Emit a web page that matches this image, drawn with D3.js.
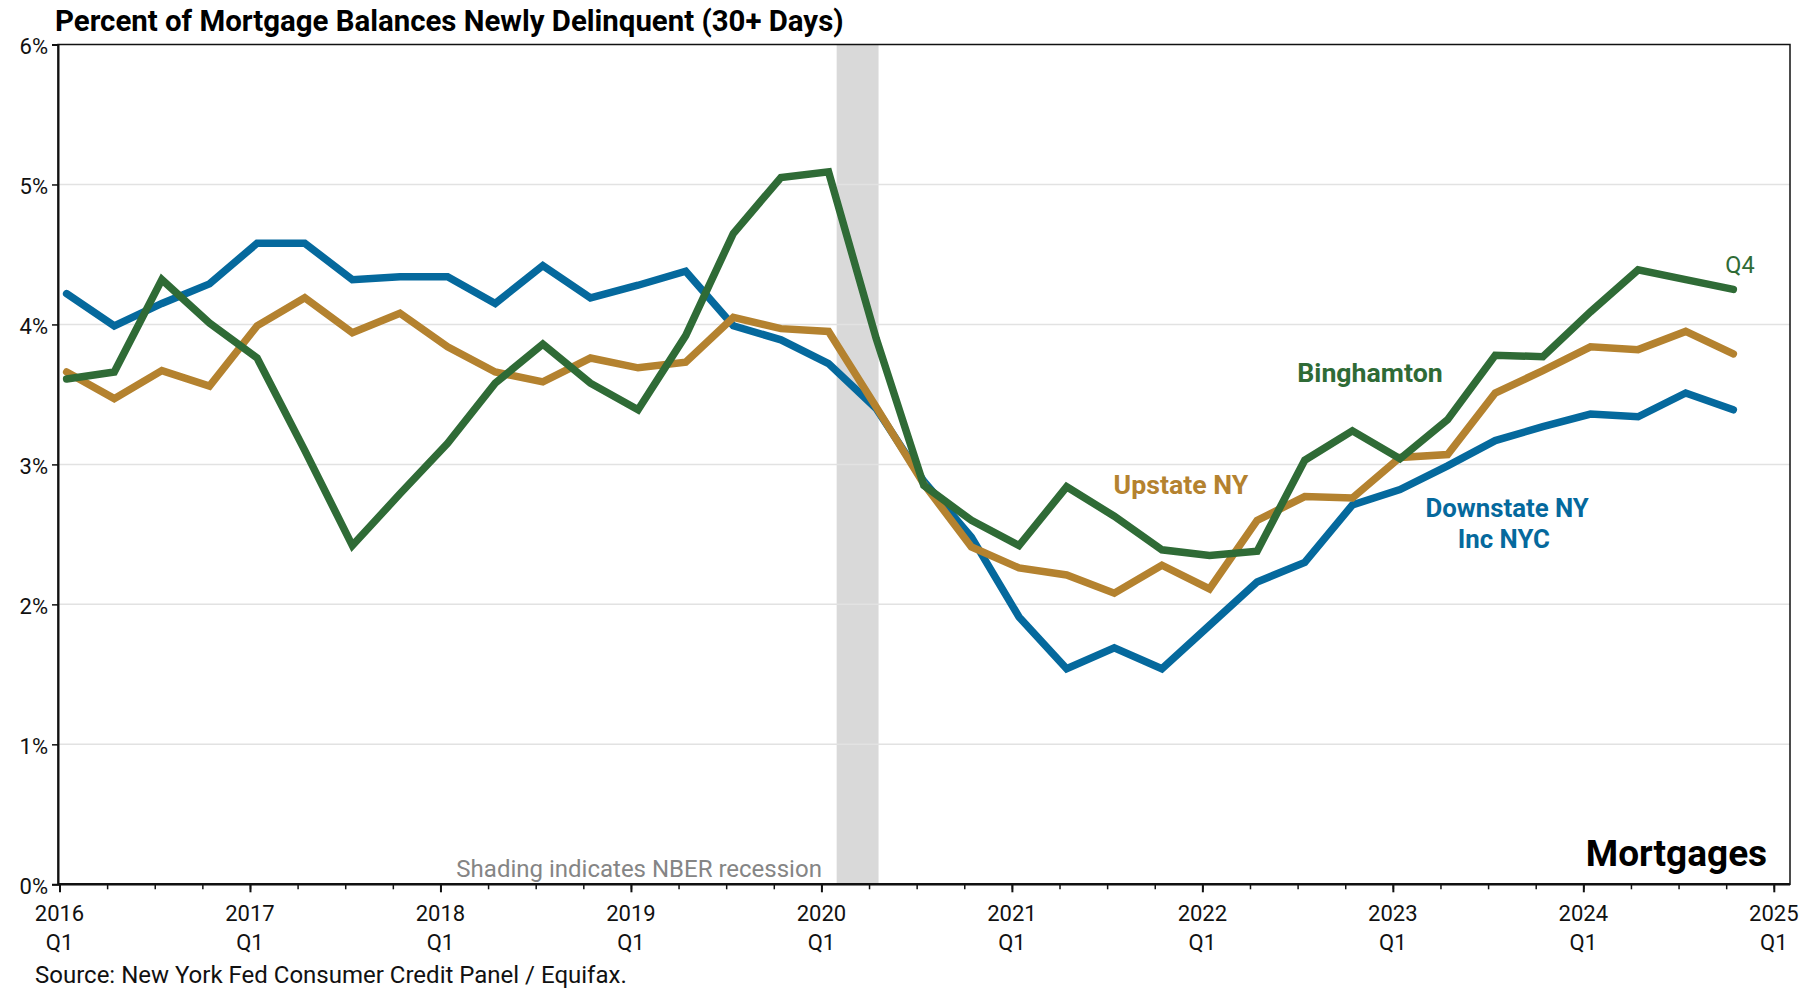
<!DOCTYPE html>
<html>
<head>
<meta charset="utf-8">
<script src="https://cdn.jsdelivr.net/npm/d3@7"></script>
<style>
  html, body { margin: 0; padding: 0; background: #fff; }
  svg { display: block; font-family: Roboto, "Noto Sans", sans-serif; }
</style>
</head>
<body>
<div id="chart"></div>
<script>
  // quarters 2016Q1 .. 2024Q4
  const quarters = [
    '2016Q1', '2016Q2', '2016Q3', '2016Q4', '2017Q1', '2017Q2', '2017Q3', '2017Q4',
    '2018Q1', '2018Q2', '2018Q3', '2018Q4', '2019Q1', '2019Q2', '2019Q3', '2019Q4',
    '2020Q1', '2020Q2', '2020Q3', '2020Q4', '2021Q1', '2021Q2', '2021Q3', '2021Q4',
    '2022Q1', '2022Q2', '2022Q3', '2022Q4', '2023Q1', '2023Q2', '2023Q3', '2023Q4',
    '2024Q1', '2024Q2', '2024Q3', '2024Q4'
  ];

  const downstate = [
    4.22, 3.99, 4.15, 4.29, 4.58, 4.58, 4.32, 4.34, 4.34, 4.15, 4.42, 4.19,
    4.28, 4.38, 3.99, 3.89, 3.72, 3.40, 2.88, 2.48, 1.91, 1.54, 1.69, 1.54,
    1.85, 2.16, 2.30, 2.71, 2.82, 2.99, 3.17, 3.27, 3.36, 3.34, 3.51, 3.39
  ];

  const upstate = [
    3.66, 3.47, 3.67, 3.56, 3.99, 4.19, 3.94, 4.08, 3.84, 3.66, 3.59, 3.76,
    3.69, 3.73, 4.05, 3.97, 3.95, 3.41, 2.86, 2.41, 2.26, 2.21, 2.08, 2.28,
    2.11, 2.60, 2.77, 2.76, 3.05, 3.07, 3.51, 3.67, 3.84, 3.82, 3.95, 3.79
  ];

  const binghamton = [
    3.61, 3.66, 4.32, 4.01, 3.76, 3.10, 2.42, 2.79, 3.15, 3.58, 3.86, 3.58,
    3.39, 3.92, 4.65, 5.05, 5.09, 3.90, 2.85, 2.60, 2.42, 2.84, 2.63, 2.39,
    2.35, 2.38, 3.03, 3.24, 3.04, 3.32, 3.78, 3.77, 4.09, 4.39, 4.32, 4.25
  ];

  const yTicks = [0, 1, 2, 3, 4, 5, 6];
  const yearTicks = ['2016', '2017', '2018', '2019', '2020', '2021', '2022', '2023', '2024', '2025'];

  // NBER recession, in decimal years
  const recession = [2020.08, 2020.30];

  const series = [
    {name: 'Downstate NY Inc NYC', values: downstate, color: '#05699d'},
    {name: 'Upstate NY', values: upstate, color: '#b4822f'},
    {name: 'Binghamton', values: binghamton, color: '#2f6b36'}
  ];

  const WIDTH = 1816;
  const HEIGHT = 988;
  const plot = {left: 58, right: 1790, top: 44.5, bottom: 884.3};
  const POINT_OFFSET = 0.15; // points sit a little after the quarter tick

  const svg = d3.select('#chart').append('svg')
    .attr('width', WIDTH)
    .attr('height', HEIGHT);

  const x = d3.scaleLinear().domain([0, 36]).range([59.5, 1773.8]);
  const y = d3.scaleLinear().domain([0, 6]).range([plot.bottom, plot.top]);
  const xYear = (yr) => x((yr - 2016) * 4);

  // recession band
  svg.append('rect')
    .attr('x', xYear(recession[0]))
    .attr('y', plot.top)
    .attr('width', xYear(recession[1]) - xYear(recession[0]))
    .attr('height', plot.bottom - plot.top)
    .attr('fill', '#d9d9d9');

  // grid
  svg.append('g')
    .selectAll('line')
    .data(yTicks.filter((d) => d > 0 && d < 6))
    .join('line')
    .attr('x1', plot.left)
    .attr('x2', plot.right)
    .attr('y1', (d) => y(d))
    .attr('y2', (d) => y(d))
    .attr('stroke', '#e2e2e2')
    .attr('stroke-width', 1.5);

  // frame
  svg.append('rect')
    .attr('x', plot.left)
    .attr('y', plot.top)
    .attr('width', plot.right - plot.left)
    .attr('height', plot.bottom - plot.top)
    .attr('fill', 'none')
    .attr('stroke', '#111')
    .attr('stroke-width', 1.5);

  // y axis
  const yAxis = d3.axisLeft(y)
    .tickValues(yTicks)
    .tickSize(6)
    .tickPadding(4)
    .tickFormat((d) => `${d}%`);

  const yAxisGroup = svg.append('g')
    .attr('transform', `translate(${plot.left},0)`)
    .call(yAxis);
  yAxisGroup.select('.domain').attr('stroke', '#111').attr('stroke-width', 2);
  yAxisGroup.selectAll('.tick line').attr('stroke', '#111').attr('stroke-width', 1.5);
  yAxisGroup.selectAll('.tick text')
    .attr('font-size', 22)
    .attr('font-family', 'Roboto')
    .attr('fill', '#111')
    .attr('dy', '0.42em');

  // x axis: minor ticks every quarter, major per year
  const xAxisMinor = d3.axisBottom(x)
    .tickValues(d3.range(0, 37))
    .tickSize(5)
    .tickFormat('');
  const xMinorGroup = svg.append('g')
    .attr('transform', `translate(0,${plot.bottom})`)
    .call(xAxisMinor);
  xMinorGroup.select('.domain').remove();
  xMinorGroup.selectAll('.tick line').attr('stroke', '#111').attr('stroke-width', 1.5);

  const xAxisMajor = d3.axisBottom(x)
    .tickValues(yearTicks.map((d, i) => i * 4))
    .tickSize(8)
    .tickFormat('');
  const xMajorGroup = svg.append('g')
    .attr('transform', `translate(0,${plot.bottom})`)
    .call(xAxisMajor);
  xMajorGroup.select('.domain').remove();
  xMajorGroup.selectAll('.tick line').attr('stroke', '#111').attr('stroke-width', 2);

  svg.append('line')
    .attr('x1', plot.left)
    .attr('x2', plot.right)
    .attr('y1', plot.bottom)
    .attr('y2', plot.bottom)
    .attr('stroke', '#111')
    .attr('stroke-width', 2.5);

  const yearLabels = svg.append('g')
    .selectAll('text')
    .data(yearTicks)
    .join('text')
    .attr('text-anchor', 'middle')
    .attr('font-size', 22)
    .attr('fill', '#111')
    .attr('transform', (d, i) => `translate(${x(i * 4)},${plot.bottom})`);
  yearLabels.append('tspan').attr('x', 0).attr('y', 37).text((d) => d);
  yearLabels.append('tspan').attr('x', 0).attr('y', 66).text('Q1');

  // lines
  const line = d3.line()
    .x((d, i) => x(i + POINT_OFFSET))
    .y((d) => y(d));

  svg.append('g')
    .selectAll('path')
    .data(series)
    .join('path')
    .attr('d', (d) => line(d.values))
    .attr('fill', 'none')
    .attr('stroke', (d) => d.color)
    .attr('stroke-width', 7.5)
    .attr('stroke-linecap', 'round')
    .attr('stroke-linejoin', 'miter');

  // annotations (positions in data units)
  const annotations = [
    {text: 'Binghamton', q: 27.52, v: 3.59, color: '#2f6b36', weight: 700, size: 26.7, anchor: 'middle'},
    {text: 'Upstate NY', q: 23.55, v: 2.79, color: '#b4822f', weight: 700, size: 26.7, anchor: 'middle'},
    {text: 'Downstate NY', q: 30.40, v: 2.625, color: '#05699d', weight: 700, size: 25.8, anchor: 'middle'},
    {text: 'Inc NYC', q: 30.33, v: 2.405, color: '#05699d', weight: 700, size: 25.8, anchor: 'middle'},
    {text: 'Q4', q: 35.29, v: 4.37, color: '#2f6b36', weight: 400, size: 23.5, anchor: 'middle'},
    {text: 'Mortgages', q: 35.86, v: 0.13, color: '#000', weight: 700, size: 37, anchor: 'end'},
    {text: 'Shading indicates NBER recession', q: 16.01, v: 0.055, color: '#858585', weight: 400, size: 24, anchor: 'end'}
  ];

  svg.append('g')
    .selectAll('text')
    .data(annotations)
    .join('text')
    .attr('transform', (d) => `translate(${x(d.q)},${y(d.v)})`)
    .attr('text-anchor', (d) => d.anchor)
    .attr('font-weight', (d) => d.weight)
    .attr('font-size', (d) => d.size)
    .attr('fill', (d) => d.color)
    .text((d) => d.text);

  // title and source
  svg.append('text')
    .attr('x', 55)
    .attr('y', 31)
    .attr('font-size', 29.4)
    .attr('font-weight', 700)
    .attr('fill', '#000')
    .text('Percent of Mortgage Balances Newly Delinquent (30+ Days)');

  svg.append('text')
    .attr('x', 35)
    .attr('y', 983)
    .attr('font-size', 24)
    .attr('fill', '#111')
    .text('Source: New York Fed Consumer Credit Panel / Equifax.');
</script>
</body>
</html>
